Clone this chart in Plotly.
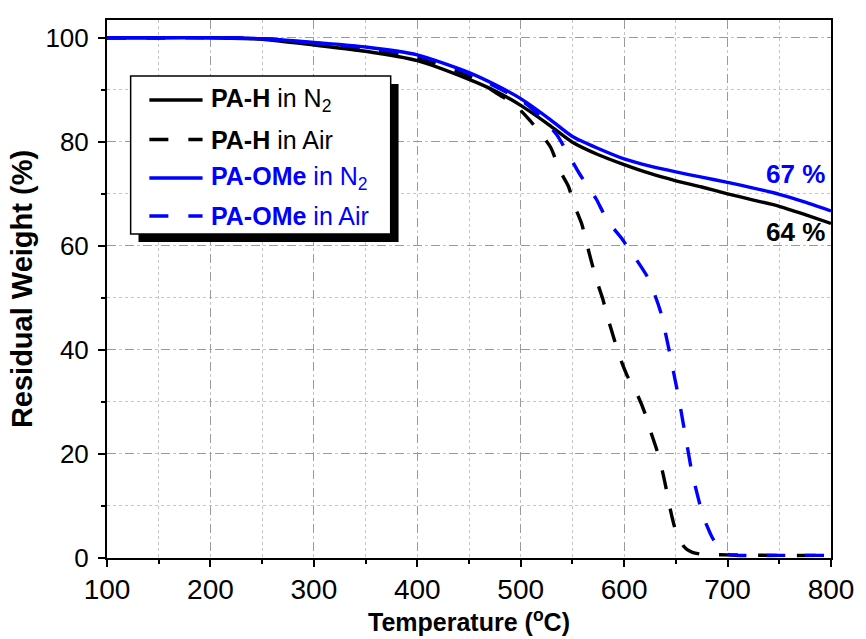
import plotly.graph_objects as go

# ---------------- data ----------------
T_H_N2 = [100, 150, 200, 250, 300, 350, 400, 450, 475, 500, 525, 550, 575, 600,
          625, 650, 675, 700, 725, 750, 775, 800]
W_H_N2 = [100, 100, 100, 99.7, 98.6, 97.4, 95.6, 92.0, 89.8, 87.0, 83.6, 79.9, 77.5, 75.6,
          73.9, 72.5, 71.3, 70.0, 68.8, 67.6, 66.0, 64.3]

T_H_AIR = [100, 150, 200, 250, 300, 350, 400, 450, 481, 490, 500, 508, 516, 529, 538, 546,
           552, 559, 565, 573, 579, 585, 590, 595, 603, 613, 620, 626, 632, 637, 641, 645,
           649, 653, 657, 661, 666, 675, 700, 750, 800]
W_H_AIR = [100, 100, 100, 99.8, 98.9, 97.9, 96.2, 92.6, 88.8, 87.8, 86.0, 84.3, 82.4, 78.9, 74.4, 71.5,
           67.7, 64.2, 59.5, 53.6, 50.0, 45.6, 42.3, 39.0, 35.0, 31.3, 27.9, 24.1, 20.5, 16.7, 13.0, 9.0,
           5.8, 3.8, 2.4, 1.6, 1.1, 0.7, 0.6, 0.5, 0.5]

T_OME_N2 = [100, 150, 200, 250, 300, 350, 400, 450, 475, 500, 525, 550, 575, 600,
            625, 650, 675, 700, 725, 750, 775, 800]
W_OME_N2 = [100, 100, 100, 99.8, 99.1, 98.2, 96.7, 93.3, 91.0, 88.3, 84.8, 81.0, 78.7, 76.7,
            75.3, 74.2, 73.2, 72.2, 71.1, 69.9, 68.4, 66.7]

T_OME_AIR = [100, 150, 200, 250, 300, 350, 400, 450, 500, 510, 520, 535, 546, 557, 567, 573,
             584, 597, 605, 611, 622, 630, 636, 640, 645, 649, 653, 657, 661, 665, 670, 675,
             680, 685, 690, 695, 702, 750, 800]
W_OME_AIR = [100, 100, 100, 99.8, 99.0, 98.1, 96.6, 93.1, 88.0, 86.5, 84.6, 81.3, 77.6, 73.8, 70.8, 69.0,
             64.8, 61.6, 59.3, 57.6, 54.2, 50.4, 46.8, 43.2, 38.5, 34.5, 30.5, 26.0, 21.5, 17.0, 12.8, 9.0,
             6.2, 4.0, 2.4, 1.2, 0.6, 0.5, 0.5]

SERIES = [
    ("<b>PA-H</b> in N<sub>2</sub>", T_H_N2, W_H_N2, "#000000", "solid"),
    ("<b>PA-H</b> in Air", T_H_AIR, W_H_AIR, "#000000", "19px,20px"),
    ("<b>PA-OMe</b> in N<sub>2</sub>", T_OME_N2, W_OME_N2, "#0000ff", "solid"),
    ("<b>PA-OMe</b> in Air", T_OME_AIR, W_OME_AIR, "#0000ff", "19px,20px"),
]

# end-point labels: text, colour, anchor temperature, anchor weight, vertical shift (px)
END_LABELS = [("<b>67 %</b>", "#0000ff", 800, 66.7, 37),
              ("<b>64 %</b>", "#000000", 800, 64.3, -9)]

X_TICKS = [100, 200, 300, 400, 500, 600, 700, 800]
Y_TICKS = [0, 20, 40, 60, 80, 100]

# ---------------- figure ----------------
W, H = 866, 639
ML, MR, MT, MB = 107, 24, 20, 81
PW, PH = W - ML - MR, H - MT - MB


def px2paper(px, py):
    return (px - ML) / PW, (H - MB - py) / PH


fig = go.Figure()
for name, t, w, col, dash in SERIES:
    fig.add_trace(go.Scatter(x=t, y=w, mode="lines", name=name, showlegend=False,
                             line=dict(color=col, width=3.4, dash=dash, shape="spline", smoothing=0.6)))

FONT = "Liberation Sans, Arial, sans-serif"
NARROW = "Liberation Sans Narrow, Arial Narrow, Liberation Sans, sans-serif"

# end labels
for txt, col, xv, yv, dy in END_LABELS:
    fig.add_annotation(x=xv, y=yv, xref="x", yref="y", text=txt, showarrow=False,
                       xanchor="right", yanchor="middle", xshift=-4, yshift=dy,
                       font=dict(family=FONT, size=26, color=col))

# legend box with shadow
x0, y0 = px2paper(139, 242)
x1, y1 = px2paper(403, 84)
fig.add_shape(type="rect", xref="paper", yref="paper", x0=x0, y0=y0, x1=x1, y1=y1,
              fillcolor="black", line=dict(color="black", width=0), layer="above")
x0, y0 = px2paper(131, 234)
x1, y1 = px2paper(395, 76)
fig.add_shape(type="rect", xref="paper", yref="paper", x0=x0, y0=y0, x1=x1, y1=y1,
              fillcolor="white", line=dict(color="black", width=1.5), layer="above")
rows = [100, 139.5, 178, 216]
for (name, t, w, col, dash), ry in zip(SERIES, rows):
    lx0, ly = px2paper(150, ry)
    lx1, _ = px2paper(204, ry)
    fig.add_shape(type="line", xref="paper", yref="paper", x0=lx0, x1=lx1, y0=ly, y1=ly,
                  line=dict(color=col, width=3.4, dash=dash), layer="above")
    tx, ty = px2paper(211, ry)
    fig.add_annotation(x=tx, y=ty, xref="paper", yref="paper", text=name, showarrow=False,
                       xanchor="left", yanchor="middle",
                       font=dict(family=FONT, size=25, color=col))

axis_common = dict(
    showline=True, linecolor="black", linewidth=2, mirror=True,
    ticks="outside", ticklen=7, tickwidth=2, tickcolor="black",
    showgrid=True, gridcolor="#9a9a9a", gridwidth=1, griddash="dash",
    zeroline=False,
)

fig.update_xaxes(range=[100, 800], tickvals=X_TICKS,
                 ticktext=[str(v) for v in X_TICKS],
                 tickfont=dict(family=NARROW, size=28, color="black"),
                 ticklabelstandoff=-2,
                 title=dict(text="<b>Temperature (<sup>o</sup>C)</b>",
                            font=dict(family=FONT, size=25, color="black"), standoff=4),
                 minor=dict(dtick=50, tick0=100, ticks="outside", ticklen=4, tickwidth=2, tickcolor="black",
                            showgrid=True, gridcolor="#c4c4c4", griddash="dot", gridwidth=1),
                 **axis_common)
fig.update_yaxes(range=[0, 103.4], tickvals=Y_TICKS,
                 tickfont=dict(family=FONT, size=26, color="black"),
                 ticklabelstandoff=4,
                 title=dict(text="<b>Residual Weight (%)</b>",
                            font=dict(family=FONT, size=29, color="black"), standoff=4),
                 minor=dict(dtick=10, tick0=0, ticks="outside", ticklen=4, tickwidth=2, tickcolor="black",
                            showgrid=True, gridcolor="#c4c4c4", griddash="dot", gridwidth=1),
                 **axis_common)

fig.update_layout(width=W, height=H, margin=dict(l=ML, r=MR, t=MT, b=MB),
                  paper_bgcolor="white", plot_bgcolor="white", showlegend=False,
                  font=dict(family=FONT, color="black"))

fig.write_html("out.html")
